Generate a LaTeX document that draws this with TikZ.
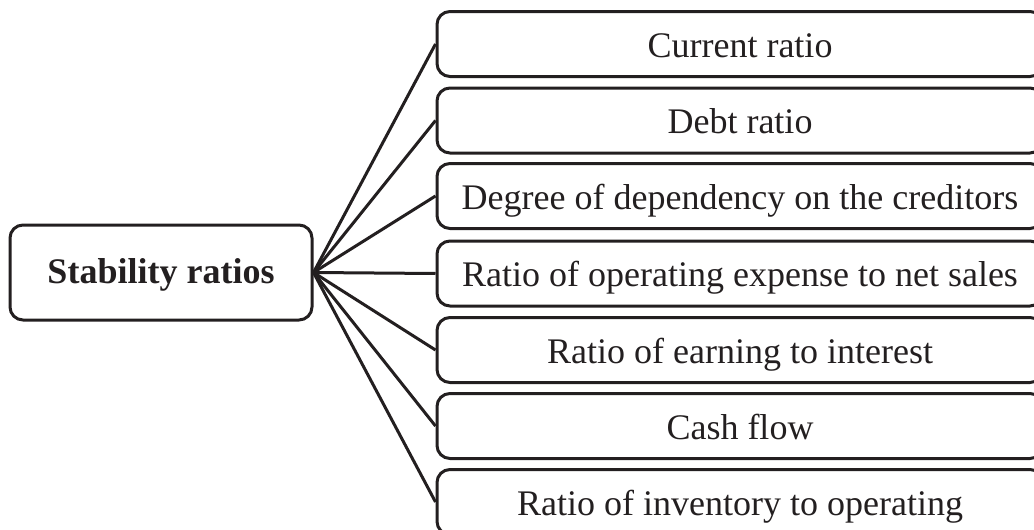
\documentclass[tikz,border=0pt]{standalone}
\usepackage{fontspec}
\setmainfont{Liberation Serif}
\definecolor{linec}{HTML}{231F20}
\definecolor{textc}{HTML}{231F20}
\begin{document}
\begin{tikzpicture}[x=1pt,y=-1pt,
  box/.style={draw=linec, line width=3pt, rounded corners=13pt, minimum width=606pt, minimum height=65pt, inner sep=0pt, text height=30pt, text depth=4pt, font=\fontsize{36}{40}\selectfont, text=textc},
  root/.style={draw=linec, line width=3pt, rounded corners=13pt, minimum width=302pt, minimum height=95pt, inner sep=0pt, text height=27pt, text depth=6pt, font=\fontsize{36}{40}\selectfont\bfseries, text=textc},
  conn/.style={draw=linec, line width=3pt}]
\clip (0,0) rectangle (1034,530);
\node[root] (r) at (161,272.5) {Stability ratios};
\node[box] (b1) at (740,44) {Current ratio};
\node[box] (b2) at (740,120.5) {Debt ratio};
\node[box] (b3) at (740,196) {Degree of dependency on the creditors};
\node[box] (b4) at (740,273.5) {Ratio of operating expense to net sales};
\node[box] (b5) at (740,350) {Ratio of earning to interest};
\node[box] (b6) at (740,426) {Cash flow};
\node[box] (b7) at (740,502) {Ratio of inventory to operating};
\foreach \i in {1,...,7} \draw[conn] (r.east) -- (b\i.west);
\end{tikzpicture}
\end{document}
